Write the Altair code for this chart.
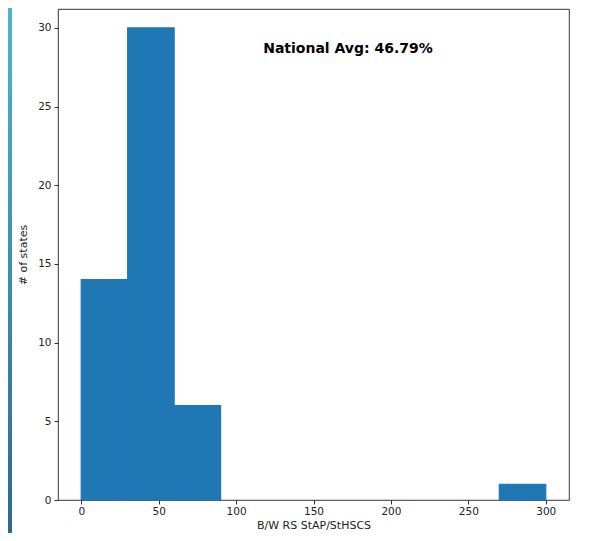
import altair as alt
import pandas as pd

# Histogram bins (B/W RS StAP/StHSCS) and counts of states
bin_start = [0, 30, 60, 90, 120, 150, 180, 210, 240, 270]
bin_end = [30, 60, 90, 120, 150, 180, 210, 240, 270, 300]
counts = [14, 30, 6, 0, 0, 0, 0, 0, 0, 1]

x_ticks = [0, 50, 100, 150, 200, 250, 300]
y_ticks = [0, 5, 10, 15, 20, 25, 30]

annotation = ["National Avg: 46.79%"]

df = pd.DataFrame({"start": bin_start, "end": bin_end, "count": counts})
df = df[df["count"] > 0]

FONT = "DejaVu Sans"

xscale = alt.Scale(domain=[-15, 315], nice=False, zero=False)
yscale = alt.Scale(domain=[0, 31.2], nice=False, zero=True)

bars = alt.Chart(df).mark_rect(color="#1f77b4", stroke="#1f77b4", strokeWidth=1.2).encode(
    x=alt.X("start:Q", scale=xscale, title="B/W RS StAP/StHSCS",
            axis=alt.Axis(values=x_ticks, format="d", grid=False, domain=False,
                          tickColor="#000", tickSize=4, tickWidth=0.8,
                          labelColor="#222", labelFont=FONT, labelFontSize=10.5,
                          labelPadding=2,
                          titleColor="#222", titleFont=FONT, titleFontSize=11,
                          titleFontWeight="normal", titlePadding=3)),
    x2="end:Q",
    y=alt.Y("count:Q", scale=yscale, title="# of states",
            axis=alt.Axis(values=y_ticks, format="d", grid=False, domain=False,
                          tickColor="#000", tickSize=4, tickWidth=0.8,
                          labelColor="#222", labelFont=FONT, labelFontSize=10.5,
                          labelPadding=3,
                          titleColor="#222", titleFont=FONT, titleFontSize=11,
                          titleFontWeight="normal", titlePadding=9)),
    y2=alt.datum(0),
)

text = alt.Chart(pd.DataFrame({"label": annotation, "x": [117.5], "y": [28.42]})).mark_text(
    font=FONT, fontSize=14, fontWeight="bold", color="#000",
    align="left", baseline="alphabetic"
).encode(x=alt.X("x:Q", scale=xscale), y=alt.Y("y:Q", scale=yscale), text="label:N")

left_strip = alt.Chart(pd.DataFrame({"a": [0]})).mark_rect(
    clip=False,
    color=alt.LinearGradient(
        gradient="linear", x1=0, x2=0, y1=0, y2=1,
        stops=[alt.GradientStop(color="#4cb6cc", offset=0),
               alt.GradientStop(color="#2a6b8c", offset=1)])
).encode(x=alt.value(-50), x2=alt.value(-46), y=alt.value(-1), y2=alt.value(525))

chart = alt.layer(left_strip, bars, text).properties(
    width=511, height=491,
    padding={"left": 50, "top": 1, "right": 12, "bottom": 33},
    autosize=alt.AutoSizeParams(type="none"),
    background="white",
).configure_view(stroke="#000", strokeWidth=0.8)

chart.save("out.html", embed_options={"renderer": "svg", "actions": False})
